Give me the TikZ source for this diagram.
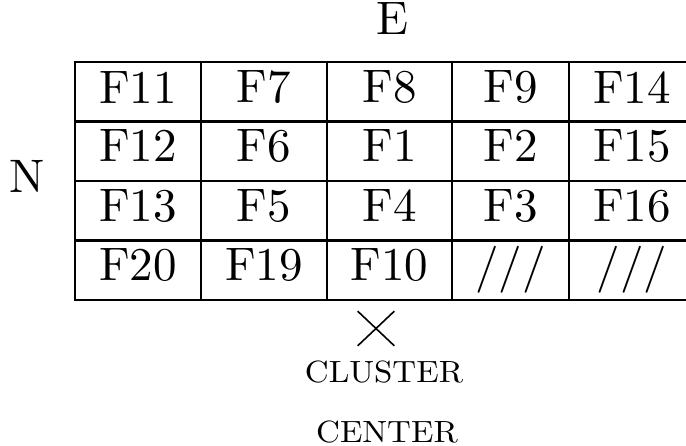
\documentclass[tikz,border=0pt]{standalone}
\usepackage{graphicx}
\usetikzlibrary{shapes.misc}
\newcommand{\BigLbl}[1]{\scalebox{4.7}{#1}}
\newcommand{\SmLbl}[1]{\scalebox{3.3}[3.07]{#1}}
\begin{document}
\begin{tikzpicture}[x=1pt,y=-1pt,
  gridline/.style={line width=2.8pt},
  lbl/.style={inner sep=0pt, outer sep=0pt}]
\useasboundingbox (0,0) rectangle (686,446);
\clip (0,0) rectangle (686,446);
% grid
\draw[gridline] (700,62) -- (75,62) -- (75,300) -- (700,300);
\foreach \yy in {121.5,181,240.5} \draw[gridline] (75,\yy) -- (700,\yy);
\foreach \xx in {201,327,452,569} \draw[gridline] (\xx,62) -- (\xx,300);
% labels
\node[lbl] (E) at (392,19) {\BigLbl{E}};
\node[lbl] (N) at (27,176) {\BigLbl{N}};
% row 1
\node[lbl] (f11) at (138,87.5) {\BigLbl{F11}};
\node[lbl] (f7) at (264,87.5) {\BigLbl{F7}};
\node[lbl] (f8) at (389.5,87.5) {\BigLbl{F8}};
\node[lbl] (f9) at (510.5,87.5) {\BigLbl{F9}};
\node[lbl] (f14) at (632,87.5) {\BigLbl{F14}};
% row 2
\node[lbl] (f12) at (138,146) {\BigLbl{F12}};
\node[lbl] (f6) at (264,146) {\BigLbl{F6}};
\node[lbl] (f1) at (389.5,146) {\BigLbl{F1}};
\node[lbl] (f2) at (510.5,146) {\BigLbl{F2}};
\node[lbl] (f15) at (632,146) {\BigLbl{F15}};
% row 3
\node[lbl] (f13) at (138,206) {\BigLbl{F13}};
\node[lbl] (f5) at (264,206) {\BigLbl{F5}};
\node[lbl] (f4) at (389.5,206) {\BigLbl{F4}};
\node[lbl] (f3) at (510.5,206) {\BigLbl{F3}};
\node[lbl] (f16) at (632,206) {\BigLbl{F16}};
% row 4
\node[lbl] (f20) at (138,265) {\BigLbl{F20}};
\node[lbl] (f19) at (264,265) {\BigLbl{F19}};
\node[lbl] (f10) at (389.5,265) {\BigLbl{F10}};
\node[lbl] (s1) at (510.5,269.5) {\BigLbl{///}};
\node[lbl] (s2) at (632,269.5) {\BigLbl{///}};
% cluster center
\node[draw, cross out, line width=1.6pt, minimum width=35pt, minimum height=33pt, inner sep=0pt] (cc) at (376,328.5) {};
\node[lbl] (cl) at (384,372.5) {\SmLbl{CLUSTER}};
\node[lbl] (ce) at (387,432.5) {\SmLbl{CENTER}};
\end{tikzpicture}
\end{document}
